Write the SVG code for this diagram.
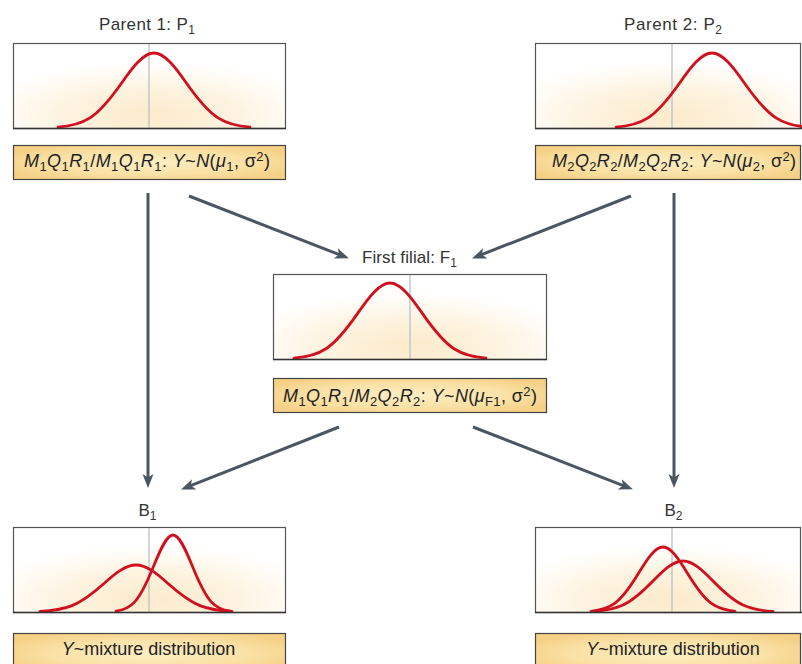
<svg xmlns="http://www.w3.org/2000/svg" xmlns:xlink="http://www.w3.org/1999/xlink" width="802" height="664" viewBox="0 0 802 664">
<style>
text{font-family:"Liberation Sans",Arial,Helvetica,sans-serif}
.t{font-size:17px;fill:#333}
.lb{font-size:18px;fill:#222}
.i{font-style:italic}
.s{font-size:13px;font-style:normal}
.ts{font-size:12px}
.plot{fill:url(#pg);stroke:#555;stroke-width:1.2}
.axis{stroke:#333;stroke-width:1.6}
.mid{stroke:#b9c1c5;stroke-width:1.3}
.lab{fill:url(#lg);stroke:#444;stroke-width:1.2}
.curve{fill:none;stroke:#d0101f;stroke-width:2.8;vector-effect:non-scaling-stroke;stroke-linecap:round}
.arr{fill:none;stroke:#4b5661;stroke-width:3;marker-end:url(#ah)}
</style>
<defs>
<radialGradient id="pg" cx="0.5" cy="0.85" r="0.65">
<stop offset="0" stop-color="#fcebcb"/>
<stop offset="0.5" stop-color="#fdf3e0"/>
<stop offset="0.82" stop-color="#fffcf6"/>
<stop offset="1" stop-color="#ffffff"/>
</radialGradient>
<radialGradient id="lg" cx="0.5" cy="0.5" r="0.6">
<stop offset="0" stop-color="#fdeec3"/>
<stop offset="0.6" stop-color="#fae1a5"/>
<stop offset="1" stop-color="#f5d085"/>
</radialGradient>
<marker id="ah" markerUnits="userSpaceOnUse" markerWidth="14" markerHeight="12" viewBox="0 0 14 12" refX="5" refY="6" orient="auto">
<path d="M0,0.5 L14,6 L0,11.5 L3.5,6 z" fill="#4b5661"/>
</marker>
<path id="gauss" class="curve" d="M-3,-0.011 C-2.667,-0.0222 -2.333,-0.0451 -2,-0.1353 C-1.667,-0.2255 -1.333,-0.4043 -1,-0.6065 C-0.667,-0.8087 -0.333,-1 0,-1 C0.333,-1 0.667,-0.8087 1,-0.6065 C1.333,-0.4043 1.667,-0.2255 2,-0.1353 C2.333,-0.0451 2.667,-0.0222 3,-0.011"/>
</defs>

<g id="connectors">
<line class="arr" x1="148" y1="193" x2="148" y2="479"/>
<line class="arr" x1="189" y1="196" x2="340.5" y2="255.1"/>
<line class="arr" x1="631" y1="196" x2="480.4" y2="255.1"/>
<line class="arr" x1="674" y1="193" x2="674" y2="479"/>
<line class="arr" x1="339" y1="427" x2="189.4" y2="486.1"/>
<line class="arr" x1="473" y1="427" x2="624.5" y2="486.1"/>
</g>

<g id="p1">
<text class="t" x="147" y="30" text-anchor="middle" textLength="96" lengthAdjust="spacing">Parent 1: P<tspan class="ts" dy="4">1</tspan></text>
<rect class="plot" x="13.5" y="43.5" width="272" height="85"/>
<line class="mid" x1="149" y1="44" x2="149" y2="128"/>
<use xlink:href="#gauss" transform="translate(154,128) scale(32,75)"/>
<line class="axis" x1="13" y1="128.5" x2="286" y2="128.5"/>
<rect class="lab" x="13.5" y="145.5" width="272" height="34"/>
<text class="lb" x="147" y="167" text-anchor="middle" textLength="246" lengthAdjust="spacing"><tspan class="i">M</tspan><tspan class="s" dy="4">1</tspan><tspan class="i" dy="-4">Q</tspan><tspan class="s" dy="4">1</tspan><tspan class="i" dy="-4">R</tspan><tspan class="s" dy="4">1</tspan><tspan dy="-4">/</tspan><tspan class="i">M</tspan><tspan class="s" dy="4">1</tspan><tspan class="i" dy="-4">Q</tspan><tspan class="s" dy="4">1</tspan><tspan class="i" dy="-4">R</tspan><tspan class="s" dy="4">1</tspan><tspan dy="-4">: </tspan><tspan class="i">Y</tspan>~<tspan class="i">N</tspan>(<tspan class="i">μ</tspan><tspan class="s" dy="4">1</tspan><tspan dy="-4">, σ</tspan><tspan class="s" dy="-6">2</tspan><tspan dy="6">)</tspan></text>
</g>

<g id="p2">
<text class="t" x="673" y="30" text-anchor="middle" textLength="98" lengthAdjust="spacing">Parent 2: P<tspan class="ts" dy="4">2</tspan></text>
<rect class="plot" x="535.5" y="43.5" width="265" height="85"/>
<line class="mid" x1="672" y1="44" x2="672" y2="128"/>
<use xlink:href="#gauss" transform="translate(712,128) scale(32,75)"/>
<line class="axis" x1="535" y1="128.5" x2="802" y2="128.5"/>
<rect class="lab" x="535.5" y="145.5" width="265" height="34"/>
<text class="lb" x="674" y="167" text-anchor="middle" textLength="244" lengthAdjust="spacing"><tspan class="i">M</tspan><tspan class="s" dy="4">2</tspan><tspan class="i" dy="-4">Q</tspan><tspan class="s" dy="4">2</tspan><tspan class="i" dy="-4">R</tspan><tspan class="s" dy="4">2</tspan><tspan dy="-4">/</tspan><tspan class="i">M</tspan><tspan class="s" dy="4">2</tspan><tspan class="i" dy="-4">Q</tspan><tspan class="s" dy="4">2</tspan><tspan class="i" dy="-4">R</tspan><tspan class="s" dy="4">2</tspan><tspan dy="-4">: </tspan><tspan class="i">Y</tspan>~<tspan class="i">N</tspan>(<tspan class="i">μ</tspan><tspan class="s" dy="4">2</tspan><tspan dy="-4">, σ</tspan><tspan class="s" dy="-6">2</tspan><tspan dy="6">)</tspan></text>
</g>

<g id="f1">
<text class="t" x="409.5" y="263" text-anchor="middle" textLength="95" lengthAdjust="spacing">First filial: F<tspan class="ts" dy="4">1</tspan></text>
<rect class="plot" x="273.5" y="274.5" width="273" height="85"/>
<line class="mid" x1="410" y1="275" x2="410" y2="359"/>
<use xlink:href="#gauss" transform="translate(390,359) scale(32,76)"/>
<line class="axis" x1="273" y1="359.5" x2="547" y2="359.5"/>
<rect class="lab" x="273.5" y="378.5" width="273" height="34"/>
<text class="lb" x="410" y="402" text-anchor="middle" textLength="254" lengthAdjust="spacing"><tspan class="i">M</tspan><tspan class="s" dy="4">1</tspan><tspan class="i" dy="-4">Q</tspan><tspan class="s" dy="4">1</tspan><tspan class="i" dy="-4">R</tspan><tspan class="s" dy="4">1</tspan><tspan dy="-4">/</tspan><tspan class="i">M</tspan><tspan class="s" dy="4">2</tspan><tspan class="i" dy="-4">Q</tspan><tspan class="s" dy="4">2</tspan><tspan class="i" dy="-4">R</tspan><tspan class="s" dy="4">2</tspan><tspan dy="-4">: </tspan><tspan class="i">Y</tspan>~<tspan class="i">N</tspan>(<tspan class="i">μ</tspan><tspan class="s i" dy="4">F</tspan><tspan class="s">1</tspan><tspan dy="-4">, σ</tspan><tspan class="s" dy="-6">2</tspan><tspan dy="6">)</tspan></text>
</g>

<g id="b1">
<text class="t" x="147.5" y="516" text-anchor="middle">B<tspan class="ts" dy="4">1</tspan></text>
<rect class="plot" x="13.5" y="527.5" width="272" height="85"/>
<line class="mid" x1="149" y1="528" x2="149" y2="612"/>
<use xlink:href="#gauss" transform="translate(136,612) scale(32,47)"/>
<use xlink:href="#gauss" transform="translate(173,612) scale(19,77)"/>
<line class="axis" x1="13" y1="612.5" x2="286" y2="612.5"/>
<rect class="lab" x="13.5" y="633.5" width="272" height="40"/>
<text class="lb" x="148.5" y="655" text-anchor="middle"><tspan class="i">Y</tspan>~mixture distribution</text>
</g>

<g id="b2">
<text class="t" x="673.5" y="516" text-anchor="middle">B<tspan class="ts" dy="4">2</tspan></text>
<rect class="plot" x="535.5" y="527.5" width="265" height="85"/>
<line class="mid" x1="672" y1="528" x2="672" y2="612"/>
<use xlink:href="#gauss" transform="translate(663,612) scale(24,65)"/>
<use xlink:href="#gauss" transform="translate(683,612) scale(30,51)"/>
<line class="axis" x1="535" y1="612.5" x2="802" y2="612.5"/>
<rect class="lab" x="535.5" y="633.5" width="265" height="40"/>
<text class="lb" x="673" y="655" text-anchor="middle"><tspan class="i">Y</tspan>~mixture distribution</text>
</g>
</svg>
